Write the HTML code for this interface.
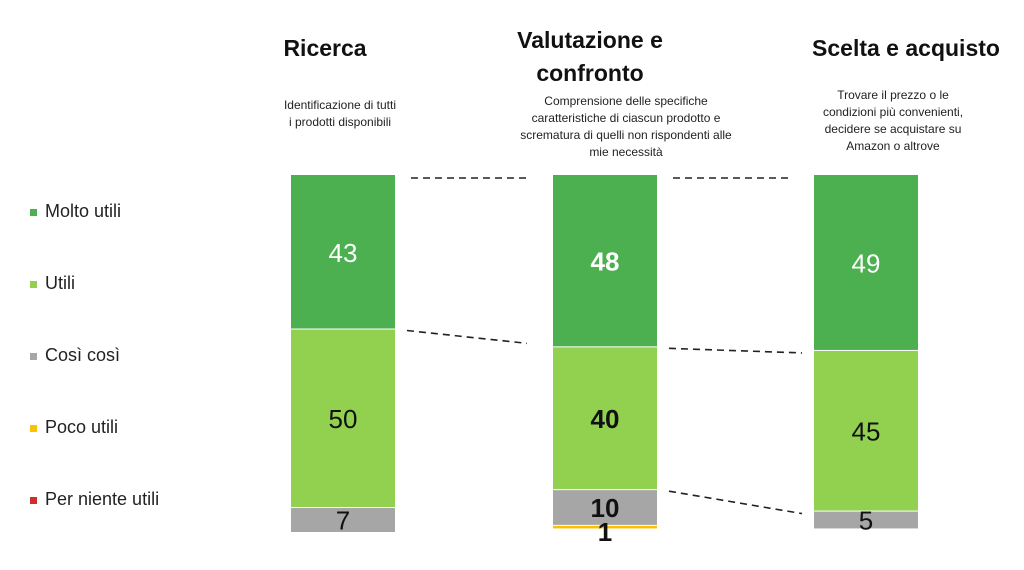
<!DOCTYPE html>
<html><head><meta charset="utf-8"><style>
body{margin:0;background:#fff;width:1024px;height:565px;overflow:hidden;font-family:"Liberation Sans",sans-serif}
</style></head><body>
<svg width="1024" height="565" id="chart" font-family="Liberation Sans, sans-serif">
<g id="titles"></g><g id="bars"></g><g id="legend"></g><g id="links"></g>
</svg>
<script>
const categories=["Ricerca","Valutazione e\nconfronto","Scelta e acquisto"];
const subtitles=[["Identificazione di tutti","i prodotti  disponibili"],["Comprensione delle specifiche","caratteristiche di ciascun prodotto e","scrematura di quelli non rispondenti alle","mie necessità"],["Trovare il prezzo o le","condizioni più convenienti,","decidere se acquistare su","Amazon o altrove"]];
const series=["Molto utili","Utili","Così così","Poco utili","Per niente utili"];
const molto=[43,48,49];
const utili=[50,40,45];
const cosi=[7,10,5];
const poco=[0,1,0];
const niente=[0,0,0];
const colors=["#4caf50","#92d050","#a6a6a6","#ffc000","#d0302a"];
const NS="http://www.w3.org/2000/svg";
function mk(t,a,p){const e=document.createElementNS(NS,t);for(const k in a)e.setAttribute(k,a[k]);p.appendChild(e);return e;}
const top0=175,unit=3.57,bw=104;
const xs=[291,553,814];
function y(v){return top0+v*unit;}
const vals=[molto,utili,cosi,poco,niente];
const gB=document.getElementById('bars'),gT=document.getElementById('titles'),gL=document.getElementById('legend'),gK=document.getElementById('links');
const bounds=[];
categories.forEach((c,i)=>{
  const lines=c.split("\n");
  const tx=[325,590,906][i];
  const t=mk('text',{x:tx,'text-anchor':'middle','font-size':23,'font-weight':'bold',fill:'#111'},gT);
  
  
  lines.forEach((l,j)=>{const ts=mk('tspan',{x:tx,y:(lines.length>1?48:56)+j*33},t);ts.textContent=l;});
  const st=mk('text',{'text-anchor':'middle','font-size':12,fill:'#222'},gT);
  
  
  const sy=[109,105,99][i];
  subtitles[i].forEach((l,j)=>{const ts=mk('tspan',{x:[340,626,893][i],y:sy+j*17},st);ts.textContent=l;});
  let acc=0;const b=[];
  vals.forEach((arr,s)=>{
    const v=arr[i];b.push(y(acc));
    if(v>0){
      const r=mk('rect',{x:xs[i],y:y(acc)+(acc>0?1:0),width:bw,height:v*unit-(acc>0?1:0),fill:colors[s]},gB);
      
      
      const lab=mk('text',{x:xs[i]+bw/2,y:(s==3?y(acc)+16:y(acc)+v*unit/2+10),'text-anchor':'middle','font-size':26,fill:s==0?'#fff':'#111','font-weight':i==1?'bold':'normal'},gB);
      lab.textContent=v;
      
      
    }
    acc+=v;
  });
  bounds.push(b);
});
[0,1,2].forEach(k=>{
  for(let i=0;i<2;i++){
    if(k==2&&i==0)continue;
    const l=mk('line',{x1:xs[i]+bw+(k==0?16:12),y1:bounds[i][k]+(k==0?3:2),x2:xs[i+1]-(k==0?26:(i==0?26:12)),y2:bounds[i+1][k]+(k==0?3:(i==0?-3:3)),stroke:'#222','stroke-width':1.6,'stroke-dasharray':'7,5'},gK);
    
    
  }
});
series.forEach((s,i)=>{
  const yy=216+i*72;
  const r=mk('rect',{x:30,y:yy-7,width:7,height:7,fill:colors[i]},gL);
  
  
  const t=mk('text',{x:45,y:yy+1,'font-size':18,fill:'#222'},gL);
  t.textContent=s;
  
  
});
</script>
</body></html>
